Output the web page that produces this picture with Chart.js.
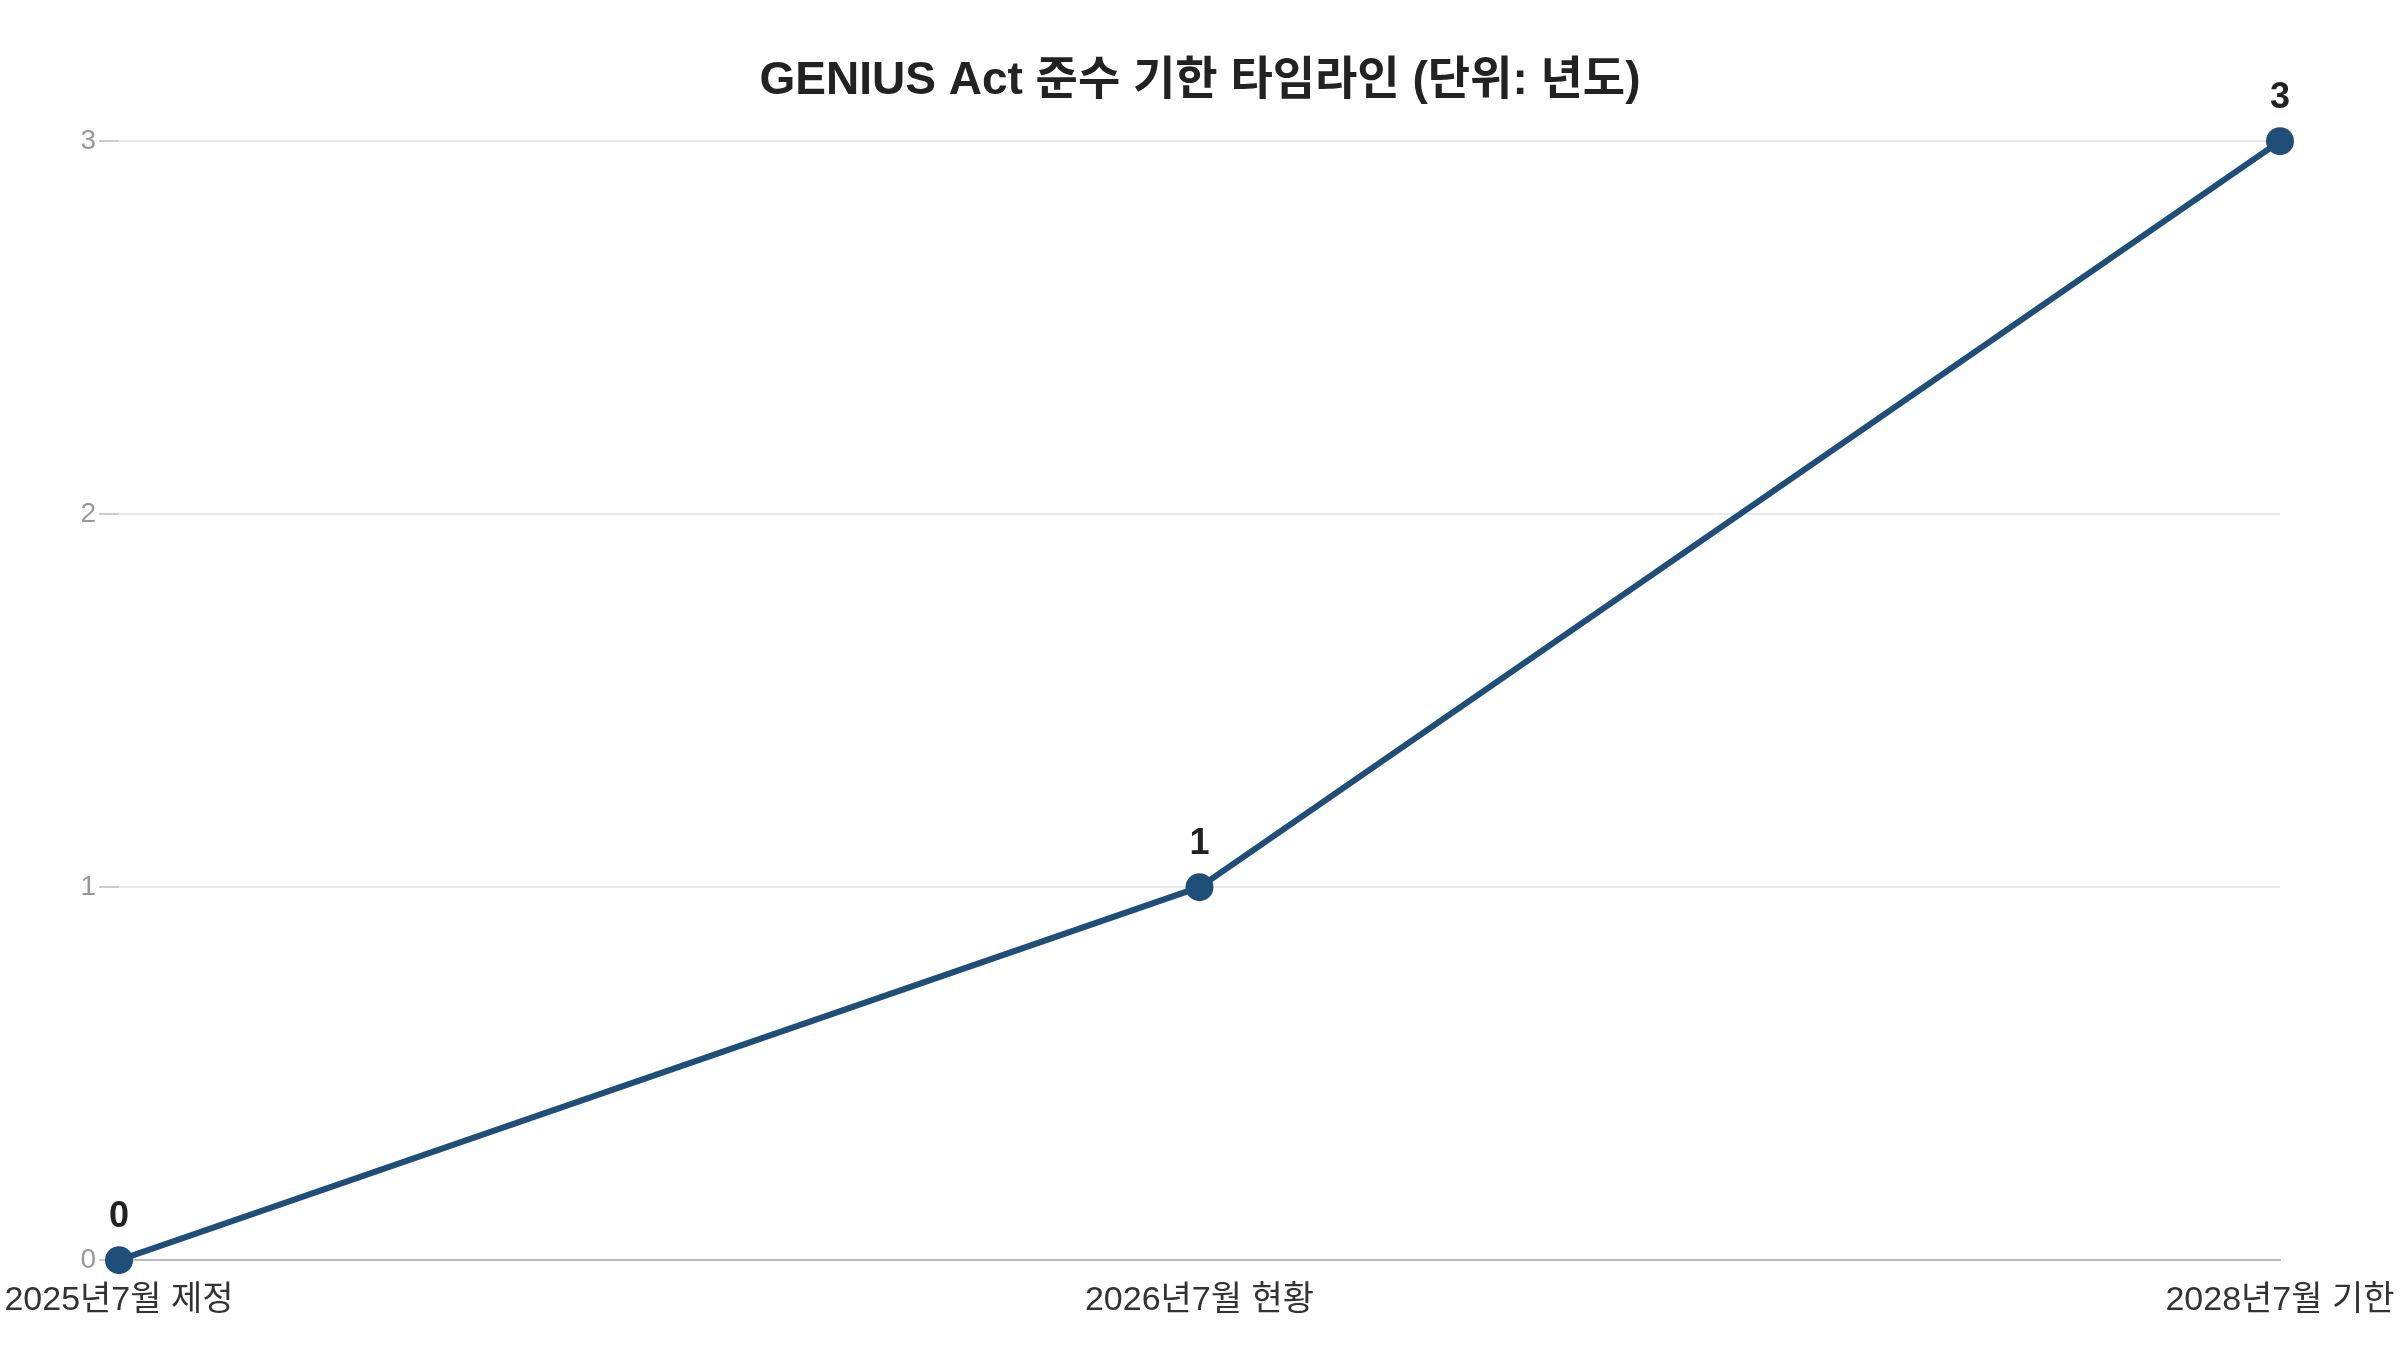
<!DOCTYPE html>
<html lang="ko">
<head>
<meta charset="utf-8">
<title>GENIUS Act 준수 기한 타임라인</title>
<script src="https://cdn.jsdelivr.net/npm/chart.js@4.4.1/dist/chart.umd.min.js"></script>
<style>
    html, body { margin: 0; padding: 0; background: #fff; }
    #wrap { width: 2400px; height: 1350px; position: relative; }
</style>
</head>
<body>
<div id="wrap"><canvas id="timelineChart"></canvas></div>
<script>
const categories = ['2025년7월 제정', '2026년7월 현황', '2028년7월 기한'];
const yearValues = [0, 1, 3];
const yTicks = [0, 1, 2, 3];

const FONT = "'Liberation Sans', Arial, 'Noto Sans CJK KR', sans-serif";
const LINE_COLOR = '#1f4e79';

// 점 위에 값 표시
const valueLabels = {
    id: 'valueLabels',
    afterDatasetsDraw(chart) {
        const ctx = chart.ctx;
        const meta = chart.getDatasetMeta(0);
        ctx.save();
        ctx.font = 'bold 36px ' + FONT;
        ctx.fillStyle = '#222';
        ctx.textAlign = 'center';
        ctx.textBaseline = 'middle';
        meta.data.forEach((pt, i) => {
            ctx.fillText(String(chart.data.datasets[0].data[i]), pt.x, pt.y - 43);
        });
        ctx.restore();
    }
};

document.addEventListener('DOMContentLoaded', function() {
    const ctx = document.getElementById('timelineChart').getContext('2d');
    new Chart(ctx, {
        type: 'line',
        data: {
            labels: categories,
            datasets: [{
                label: '년도',
                data: yearValues,
                borderColor: LINE_COLOR,
                backgroundColor: LINE_COLOR,
                borderWidth: 6,
                pointRadius: 14,
                pointHoverRadius: 14,
                pointBackgroundColor: LINE_COLOR,
                pointBorderWidth: 0,
                fill: false,
                tension: 0,
                clip: false
            }]
        },
        options: {
            responsive: true,
            maintainAspectRatio: false,
            animation: false,
            layout: {
                padding: { left: 0, right: 0, bottom: 9 }
            },
            plugins: {
                legend: { display: false },
                tooltip: { enabled: false },
                title: {
                    display: true,
                    text: 'GENIUS Act 준수 기한 타임라인 (단위: 년도)',
                    color: '#222',
                    font: { family: FONT, size: 46, weight: 'bold', lineHeight: 1.2 },
                    padding: { top: 54, bottom: 32 }
                }
            },
            scales: {
                x: {
                    offset: false,
                    grid: { display: false, drawTicks: false },
                    border: { display: true, color: '#bbbbbb', width: 2 },
                    afterFit: axis => {
                        // 라벨이 가장자리까지 닿도록 여백 고정
                        axis.paddingLeft = 119;
                        axis.paddingRight = 120;
                    },
                    ticks: {
                        color: '#333',
                        padding: 20,
                        maxRotation: 0,
                        autoSkip: false,
                        font: { family: FONT, size: 34 }
                    }
                },
                y: {
                    min: yTicks[0],
                    max: yTicks[yTicks.length - 1],
                    afterBuildTicks: axis => { axis.ticks = yTicks.map(v => ({ value: v })); },
                    grid: {
                        color: '#ebebeb',
                        lineWidth: 2,
                        drawTicks: true,
                        tickLength: 20,
                        tickColor: '#cccccc'
                    },
                    border: { display: false },
                    ticks: {
                        color: '#999',
                        padding: 3,
                        font: { family: FONT, size: 28 }
                    }
                }
            }
        },
        plugins: [valueLabels]
    });
});
</script>
</body>
</html>
